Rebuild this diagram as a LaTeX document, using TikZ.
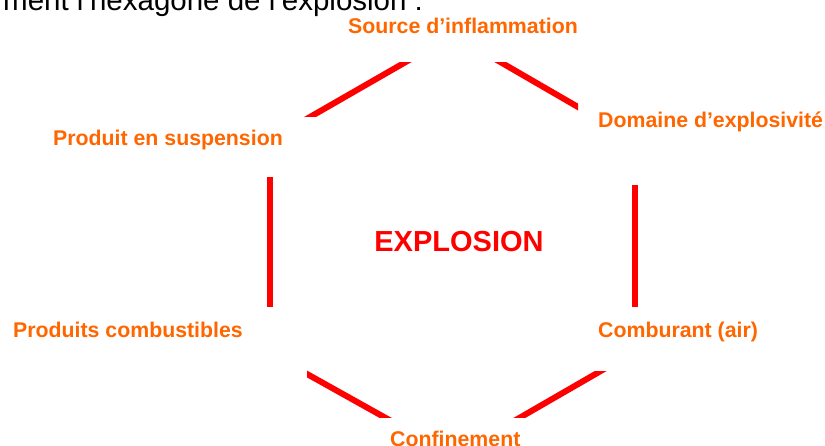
\documentclass[tikz,border=0pt]{standalone}
\usepackage{fontspec}
\setmainfont{Liberation Sans}
\definecolor{lbl}{HTML}{FF6600}
\definecolor{edge}{HTML}{FF0000}
\begin{document}
\begin{tikzpicture}[x=1pt,y=-1pt,
  lab/.style={font=\fontsize{21.3}{24}\selectfont\bfseries, text=lbl, inner sep=0pt, anchor=base west},
  hexedge/.style={draw=edge, line width=6pt, line cap=butt, shorten <=-15pt, shorten >=-15pt}]
\useasboundingbox (0,0) rectangle (825,446);
% heading (cut off at top)
\node[font=\fontsize{29.5}{34}\selectfont, inner sep=0pt, anchor=base west] (head) at (3,10.5) {ment l’hexagone de l’explosion :};
% labels
\node[lab] (src) at (348,34) {Source d’inflammation};
\node[lab] (dom) at (598,128) {Domaine d’explosivité};
\node[lab] (susp) at (53,146) {Produit en suspension};
\node[lab] (comb) at (13,338) {Produits combustibles};
\node[lab] (air) at (598,338) {Comburant (air)};
\node[lab] (conf) at (390,446) {Confinement};
\node[font=\fontsize{29}{32}\selectfont\bfseries, text=edge, inner sep=0pt, anchor=base] (expl) at (459,252) {EXPLOSION};
% edge end points
\coordinate (a1) at (310,117); \coordinate (a2) at (404,63);
\coordinate (b1) at (502,63);  \coordinate (b2) at (578,107);
\coordinate (c1) at (270,177); \coordinate (c2) at (270,307);
\coordinate (d1) at (635,185); \coordinate (d2) at (635,307);
\coordinate (e1) at (307,374); \coordinate (e2) at (384,417);
\coordinate (f1) at (599,372); \coordinate (f2) at (521,417);
\begin{scope}
  \clip (0,63) rectangle (825,117);
  \draw[hexedge] (a1) -- (a2);
\end{scope}
\begin{scope}
  \clip (0,63) rectangle (578,200);
  \draw[hexedge] (b1) -- (b2);
\end{scope}
\draw[draw=edge, line width=6pt] (c1) -- (c2);
\draw[draw=edge, line width=6pt] (d1) -- (d2);
\begin{scope}
  \clip (307,300) rectangle (825,417);
  \draw[hexedge] (e1) -- (e2);
\end{scope}
\begin{scope}
  \clip (0,372) rectangle (825,417);
  \draw[hexedge] (f1) -- (f2);
\end{scope}
\end{tikzpicture}
\end{document}
